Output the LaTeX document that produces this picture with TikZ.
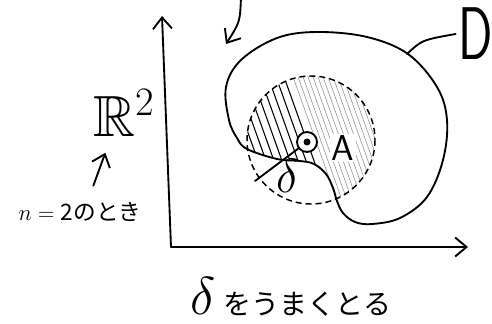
\RequirePackage{fix-cm}
\documentclass[tikz,border=0pt]{standalone}
\usepackage{amssymb}
\usepackage{fontspec}
\newfontfamily\jp{Noto Sans CJK JP}
\usetikzlibrary{arrows.meta, calc}

\begin{document}
\begin{tikzpicture}[
    x=0.75pt, y=-0.75pt,
    pen/.style={line width=1.4pt, line cap=round, line join=round},
    arrow/.style={pen, -{Straight Barb[length=3mm, width=5mm]}},
    hatch/.style={line width=0.8pt},
    lighthatch/.style={line width=0.4pt, black!45},
    ring/.style={dashed, dash pattern=on 4.5pt off 3pt, line width=1.1pt}
]
\useasboundingbox (0,0) rectangle (492,324);

\coordinate (O) at (171,247);
\coordinate (ytip) at (162,16);
\coordinate (xtip) at (468,247);
\draw[arrow] (O) -- (ytip);
\draw[arrow] (O) -- (xtip);

\coordinate (topend) at (241,-3);
\coordinate (toptip) at (226,44);
\draw[arrow] (topend) .. controls (240,22) .. (toptip);

\path[save path=\Dshape] plot[smooth cycle, tension=0.6] coordinates {
  (247,149) (277,159) (300,161) (314,164) (326,174) (333,188) (337,201)
  (343,213) (355,222) (372,224) (400,218) (427,197) (443,160) (447,120)
  (437,87) (408,54) (367,37) (317,32) (277,38) (241,60) (226,87)
  (229,120) (237,138)};

\coordinate (C) at (311,140);
\begin{scope}
  \clip (C) circle (64);
  \clip[use path=\Dshape];
  \foreach \i in {190,198,...,281} \draw[hatch] (\i,60) -- ++(50,140);
  \foreach \i in {287,292,...,365} \draw[lighthatch] (\i,60) -- ++(50,140);
\end{scope}
\draw[ring] (C) circle (64);
\path[draw, pen, use path=\Dshape];

\node[font=\sffamily\fontsize{56}{56}\selectfont, xscale=0.68] (D) at (476,34) {D};
\coordinate (Dfoot) at (407,54);
\draw[pen] (Dfoot) .. controls (422,40) .. (D.west);

\node[circle, draw, pen, fill=white, minimum size=15pt, inner sep=0pt] (ptA) at (307,142) {};
\fill (ptA) circle (3.5);
\node[font=\sffamily\fontsize{27}{27}\selectfont, fill=white, inner sep=1pt] (lblA) at (343,148) {A};

\coordinate (rim) at (255,181);
\draw[pen] (ptA) -- (rim);
\node[font=\fontsize{36}{36}\selectfont] (delta) at (288,176) {$\delta$};

\node[font=\fontsize{24.88}{25}\selectfont, scale=1.75] (R2) at (124,113) {$\mathbb{R}^{\scriptscriptstyle 2}$};
\node[font=\jp\fontsize{17}{17}\selectfont] (n2) at (80,212) {$n={}$2のとき};
\draw[arrow] ([xshift=10pt, yshift=9pt]n2.north) -- ([xshift=-14pt, yshift=-6pt]R2.south);

\node[font=\jp\fontsize{21}{21}\selectfont] (goal) at (291,297) {{\fontsize{40}{40}\selectfont$\delta$}\hspace{6pt}をうまくとる};
\end{tikzpicture}
\end{document}
